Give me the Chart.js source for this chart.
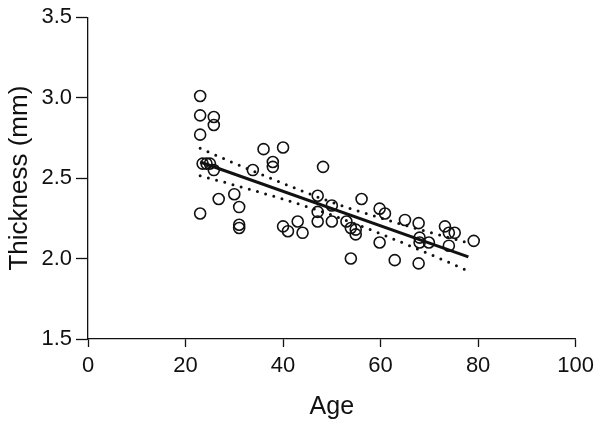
<!DOCTYPE html>
<html>
<head>
<meta charset="utf-8">
<script src="https://cdn.jsdelivr.net/npm/chart.js@4"></script>
<style>
  html, body { margin: 0; padding: 0; background: #fff; }
  #wrap { width: 600px; height: 424px; }
</style>
</head>
<body>
<div id="wrap"><canvas id="myChart" width="600" height="424"></canvas></div>
<script>
const ages = [23, 23, 25.8, 25.8, 23, 23, 23.5, 24.3, 25, 25.8, 26.8, 30, 31, 31, 31, 33.8, 36, 37.9, 37.9, 40,
  40, 41, 43, 44, 47.1, 47.1, 47.1, 48.2, 50, 50, 53, 53.9, 54.9, 54.9, 53.9, 56.1, 59.8, 60.9, 59.8, 62.9,
  65, 67.8, 68, 68, 69.9, 67.8, 73.2, 74, 75.2, 74, 79.1];
const thickness = [3.01, 2.89, 2.88, 2.83, 2.77, 2.28, 2.59, 2.59, 2.59, 2.55, 2.37, 2.40, 2.32, 2.21, 2.19, 2.55, 2.68, 2.60, 2.57, 2.69,
  2.20, 2.17, 2.23, 2.16, 2.39, 2.29, 2.23, 2.57, 2.33, 2.23, 2.23, 2.19, 2.18, 2.15, 2.00, 2.37, 2.31, 2.28, 2.10, 1.99,
  2.24, 2.22, 2.13, 2.10, 2.10, 1.97, 2.20, 2.16, 2.16, 2.08, 2.11];

// fitted line and its band
const fitAges = [23, 78];
const fitValues = [2.60, 2.01];
const bandAges = [23, 30, 40, 50, 60, 70, 78];
const bandUpper = [2.685, 2.593, 2.467, 2.350, 2.252, 2.164, 2.097];
const bandLower = [2.515, 2.457, 2.369, 2.270, 2.154, 2.028, 1.923];

const yTicks = [1.5, 2.0, 2.5, 3.0, 3.5];

const ink = "#111";
const font = "'Liberation Sans', Arial, Helvetica, sans-serif";

const toPoints = (xs, ys) => xs.map((x, i) => ({ x: x, y: ys[i] }));

const dotted = {
  type: "line",
  borderColor: ink,
  borderWidth: 3,
  borderDash: [0, 8.5],
  borderCapStyle: "round",
  pointRadius: 0,
  fill: false,
  cubicInterpolationMode: "monotone",
};

const ctx = document.getElementById("myChart").getContext("2d");
new Chart(ctx, {
  type: "scatter",
  data: {
    datasets: [
      {
        label: "Thickness",
        data: toPoints(ages, thickness),
        pointStyle: "circle",
        pointRadius: 5.5,
        pointBorderWidth: 1.6,
        borderColor: ink,
        backgroundColor: "rgba(0,0,0,0)",
      },
      {
        type: "line",
        label: "Fit",
        data: toPoints(fitAges, fitValues),
        borderColor: ink,
        borderWidth: 3,
        pointRadius: 0,
        fill: false,
      },
      Object.assign({ label: "Upper", data: toPoints(bandAges, bandUpper) }, dotted),
      Object.assign({ label: "Lower", data: toPoints(bandAges, bandLower) }, dotted),
    ],
  },
  options: {
    responsive: false,
    animation: false,
    layout: { padding: { top: 14, right: 24, left: 0, bottom: 0 } },
    plugins: {
      legend: { display: false },
      tooltip: { enabled: false },
    },
    scales: {
      x: {
        type: "linear",
        min: 0,
        max: 100,
        afterFit: (s) => { s.height = 85; },
        ticks: { stepSize: 20, color: ink, font: { family: font, size: 22 }, padding: 6 },
        grid: { drawOnChartArea: false, tickLength: 8, color: ink, tickWidth: 1.3 },
        border: { color: ink, width: 1.3 },
        title: { display: true, text: "Age", color: ink, font: { family: font, size: 25 }, padding: { bottom: 2, top: 0 } },
      },
      y: {
        type: "linear",
        min: 1.5,
        max: 3.5,
        afterFit: (s) => { s.width = 88; },
        afterBuildTicks: (s) => { s.ticks = yTicks.map((v) => ({ value: v })); },
        ticks: { color: ink, font: { family: font, size: 22 }, padding: 4, callback: (v) => Number(v).toFixed(1) },
        grid: { drawOnChartArea: false, tickLength: 12, color: ink, tickWidth: 1.3 },
        border: { color: ink, width: 1.3 },
        title: { display: true, text: "Thickness (mm)", color: ink, font: { family: font, size: 26 }, padding: { top: 4, bottom: 0 } },
      },
    },
  },
});
</script>
</body>
</html>
